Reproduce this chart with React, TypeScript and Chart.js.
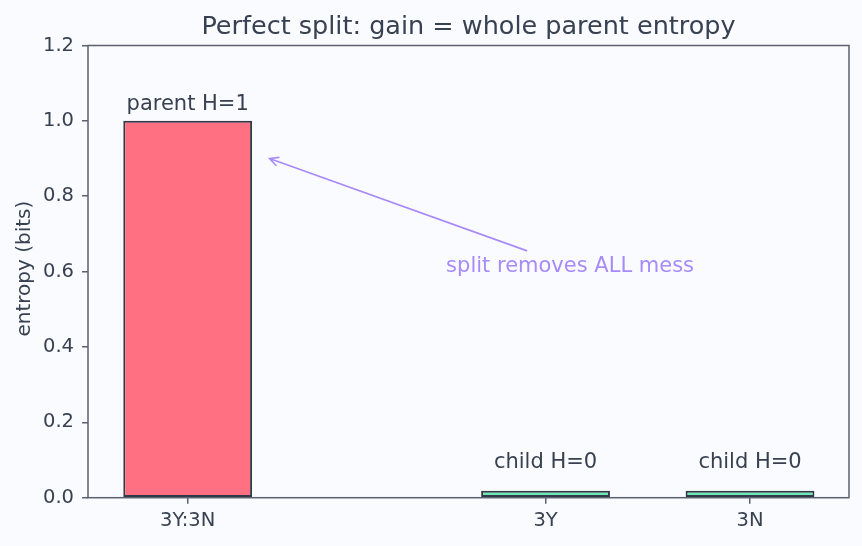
import React, { useEffect, useRef } from "react";
import { Chart, registerables } from "chart.js";

Chart.register(...registerables);

// Node entropies before and after the split
const categories = ["3Y:3N", "3Y", "3N"];
const groupPositions = [0, 1.75, 2.75];
const entropyBits = [1, 0, 0];
const barLabels = ["parent H=1", "child H=0", "child H=0"];
const barColors = ["#ff7082", "#6ee7b7", "#6ee7b7"];
const yTicks = [0, 0.2, 0.4, 0.6, 0.8, 1.0, 1.2];

// Callout: arrow from the note back to the parent bar
const noteText = "split removes ALL mess";
const noteAt = { x: 1.87, y: 0.6 };
const arrowTip = { x: 0.4, y: 0.9 };
const arrowTail = { x: 1.66, y: 0.655 };

const TEXT = "#374151";
const FRAME = "#5b6170";
const EDGE = "#323a48";
const NOTE = "#a78bfa";
const BG = "#fafbfe";
const FONT = "'DejaVu Sans', sans-serif";

const decorPlugin = {
  id: "decor",
  beforeDraw(chart: any) {
    const { ctx, width, height } = chart;
    ctx.save();
    ctx.fillStyle = BG;
    ctx.fillRect(0, 0, width, height);
    ctx.restore();
  },
  afterDatasetsDraw(chart: any) {
    const { ctx, chartArea } = chart;
    const xs = chart.scales.x;
    const ys = chart.scales.y;
    ctx.save();

    // frame around the plot area
    ctx.strokeStyle = FRAME;
    ctx.lineWidth = 1.5;
    ctx.strokeRect(
      chartArea.left,
      chartArea.top,
      chartArea.right - chartArea.left,
      chartArea.bottom - chartArea.top
    );

    // labels above bars
    ctx.fillStyle = TEXT;
    ctx.font = `21px ${FONT}`;
    ctx.textAlign = "center";
    ctx.textBaseline = "alphabetic";
    groupPositions.forEach((p, i) => {
      const level = Math.max(entropyBits[i], 0.05) + 0.03;
      ctx.fillText(barLabels[i], xs.getPixelForValue(p), ys.getPixelForValue(level));
    });

    // callout arrow
    const tx = xs.getPixelForValue(arrowTip.x);
    const ty = ys.getPixelForValue(arrowTip.y);
    const sx = xs.getPixelForValue(arrowTail.x);
    const sy = ys.getPixelForValue(arrowTail.y);
    ctx.strokeStyle = NOTE;
    ctx.lineWidth = 1.6;
    ctx.beginPath();
    ctx.moveTo(sx, sy);
    ctx.lineTo(tx, ty);
    const ang = Math.atan2(sy - ty, sx - tx);
    const hl = 10;
    const spread = 0.46;
    ctx.moveTo(tx + hl * Math.cos(ang + spread), ty + hl * Math.sin(ang + spread));
    ctx.lineTo(tx, ty);
    ctx.lineTo(tx + hl * Math.cos(ang - spread), ty + hl * Math.sin(ang - spread));
    ctx.stroke();

    ctx.fillStyle = NOTE;
    ctx.font = `21px ${FONT}`;
    ctx.textAlign = "center";
    ctx.fillText(noteText, xs.getPixelForValue(noteAt.x), ys.getPixelForValue(noteAt.y));

    // title
    ctx.fillStyle = TEXT;
    ctx.font = `25.5px ${FONT}`;
    ctx.fillText(
      "Perfect split: gain = whole parent entropy",
      (chartArea.left + chartArea.right) / 2,
      34
    );

    // y axis title
    ctx.save();
    ctx.translate(25, (chartArea.top + chartArea.bottom) / 2 - 3);
    ctx.rotate(-Math.PI / 2);
    ctx.font = `20px ${FONT}`;
    ctx.textBaseline = "middle";
    ctx.fillText("entropy (bits)", 0, 0);
    ctx.restore();

    ctx.restore();
  },
};

export default function App() {
  const canvasRef = useRef<HTMLCanvasElement | null>(null);

  useEffect(() => {
    document.body.style.margin = "0";
    document.body.style.background = BG;
    const canvas = canvasRef.current;
    if (!canvas) return;

    const chart = new Chart(canvas, {
      type: "bar",
      data: {
        datasets: [
          {
            data: groupPositions.map((x, i) => ({ x, y: entropyBits[i] })),
            backgroundColor: barColors,
            borderColor: EDGE,
            borderWidth: 2,
            borderSkipped: false,
            minBarLength: 7,
            barPercentage: 0.63,
            categoryPercentage: 1,
          },
        ],
      },
      options: {
        responsive: false,
        animation: false,
        events: [],
        layout: { padding: { left: 0, right: 13, top: 45.5, bottom: 0 } },
        plugins: {
          legend: { display: false },
          tooltip: { enabled: false },
          title: { display: false },
        },
        scales: {
          x: {
            type: "linear",
            min: -0.4875,
            max: 3.234,
            offset: false,
            afterBuildTicks: (scale: any) => {
              scale.ticks = groupPositions.map((v) => ({ value: v }));
            },
            afterFit: (scale: any) => {
              scale.height = 48.3;
            },
            ticks: {
              color: TEXT,
              font: { family: FONT, size: 19.5 },
              padding: 6,
              maxRotation: 0,
              autoSkip: false,
              callback: (_v: any, i: number) => categories[i],
            },
            grid: {
              display: true,
              offset: false,
              drawOnChartArea: false,
              drawTicks: true,
              tickLength: 6,
              color: FRAME,
              lineWidth: 1.5,
            },
            border: { display: false },
          },
          y: {
            type: "linear",
            min: 0,
            max: 1.2,
            afterBuildTicks: (scale: any) => {
              scale.ticks = yTicks.map((v) => ({ value: v }));
            },
            afterFit: (scale: any) => {
              scale.width = 88;
            },
            ticks: {
              color: TEXT,
              font: { family: FONT, size: 19.5 },
              padding: 8,
              callback: (v: any) => Number(v).toFixed(1),
            },
            grid: {
              display: true,
              drawOnChartArea: false,
              drawTicks: true,
              tickLength: 6,
              color: FRAME,
              lineWidth: 1.5,
            },
            border: { display: false },
          },
        },
      },
      plugins: [decorPlugin],
    } as any);

    return () => chart.destroy();
  }, []);

  return (
    <div style={{ width: 862, height: 546, background: BG }}>
      <canvas ref={canvasRef} width={862} height={546} style={{ display: "block" }} />
    </div>
  );
}
